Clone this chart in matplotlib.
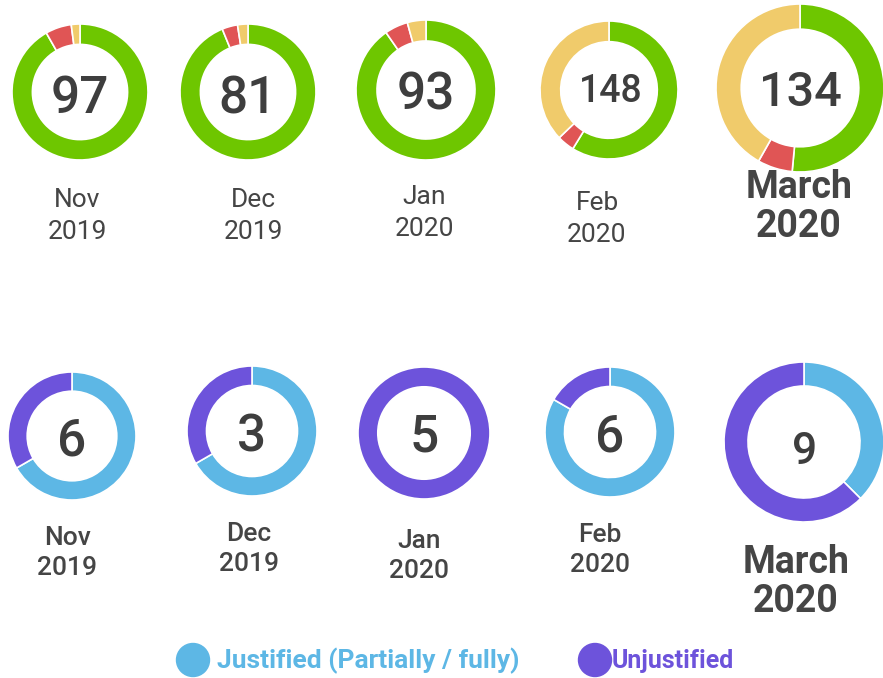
import matplotlib
matplotlib.use("Agg")
import matplotlib.pyplot as plt

plt.rcParams['font.family'] = ['Roboto', 'DejaVu Sans']

# top row: complaint totals split by outcome
top_labels = ["Nov\n2019", "Dec\n2019", "Jan\n2020", "Feb\n2020", "March\n2020"]
top_green = [89, 76, 84, 87, 69]
top_red = [6, 3, 5, 6, 9]
top_yellow = [2, 2, 4, 55, 56]

# bottom row: justified vs unjustified
bottom_labels = ["Nov\n2019", "Dec\n2019", "Jan\n2020", "Feb\n2020", "March\n2020"]
bottom_justified = [4, 2, 0, 5, 3]
bottom_unjustified = [2, 1, 5, 1, 5]
bottom_totals = [6, 3, 5, 6, 9]

legend_labels = ["Justified (Partially / fully)", "Unjustified"]

GREEN, RED, YELLOW = "#6EC600", "#E05555", "#F0CB6B"
BLUE, PURPLE = "#5DB7E5", "#6D53DB"
TEXT = "#454545"

W, H = 883, 678

# layout in pixel coordinates (y from top)
top_centers = [(80, 92), (248, 92), (426, 90), (609, 90), (800, 88)]
top_radii = [68, 68, 70, 69, 84]
top_num_pos = [(80, 99), (248, 99), (426, 96), (611, 92), (800, 93)]
top_num_size = [37, 37, 37, 27, 35]
top_lab_pos = [(77, 216), (253, 216), (424, 213), (597, 219), (799, 207)]

bot_centers = [(72, 436), (252, 431), (424, 433), (610, 432), (804, 442)]
bot_radii = [64, 65, 66, 65, 80]
bot_num_pos = [(72, 441), (252, 437), (424, 437), (610, 438), (805, 452)]
bot_num_size = [37, 37, 37, 37, 32]
bot_lab_pos = [(67, 553), (249, 549), (419, 556), (600, 550), (796, 582)]

fig = plt.figure(figsize=(W / 100, H / 100), dpi=100)
ax = fig.add_axes([0, 0, 1, 1])


def donut(values, colors, center, radius):
    vals = [v for v in values if v > 0]
    cols = [c for v, c in zip(values, colors) if v > 0]
    ax.pie(vals, colors=cols, center=(center[0], H - center[1]), radius=radius,
           startangle=90, counterclock=False,
           wedgeprops=dict(width=radius * 0.3, edgecolor="white", linewidth=1.2))


for i in range(len(top_labels)):
    donut([top_green[i], top_red[i], top_yellow[i]], [GREEN, RED, YELLOW],
          top_centers[i], top_radii[i])
    total = top_green[i] + top_red[i] + top_yellow[i]
    x, y = top_num_pos[i]
    ax.text(x, H - y, str(total), ha="center", va="center", fontsize=top_num_size[i],
            fontweight="medium", color="#3E3E3E")
    x, y = top_lab_pos[i]
    last = i == len(top_labels) - 1
    ax.text(x, H - y, top_labels[i], ha="center", va="center",
            fontsize=27 if last else 19, fontweight="bold" if last else "normal",
            color=TEXT, linespacing=1.1 if last else 1.4)

for i in range(len(bottom_labels)):
    donut([bottom_justified[i], bottom_unjustified[i]], [BLUE, PURPLE],
          bot_centers[i], bot_radii[i])
    x, y = bot_num_pos[i]
    ax.text(x, H - y, str(bottom_totals[i]), ha="center", va="center",
            fontsize=bot_num_size[i], fontweight="medium", color="#3E3E3E")
    x, y = bot_lab_pos[i]
    last = i == len(bottom_labels) - 1
    ax.text(x, H - y, bottom_labels[i], ha="center", va="center",
            fontsize=27 if last else 19, fontweight="bold" if last else "medium",
            color=TEXT, linespacing=1.1 if last else 1.35)

# legend
for (cx, tx), lab, col, fs in zip([(193, 217), (595, 612)], legend_labels,
                                  [BLUE, PURPLE], [19, 18]):
    ax.add_patch(plt.Circle((cx, H - 660), 16.5, color=col))
    ax.text(tx, H - 661, lab, ha="left", va="center", fontsize=fs,
            fontweight="bold", color=col)

ax.set_xlim(0, W)
ax.set_ylim(0, H)
ax.set_aspect("equal")
ax.axis("off")

fig.savefig("out.png", dpi=100)
